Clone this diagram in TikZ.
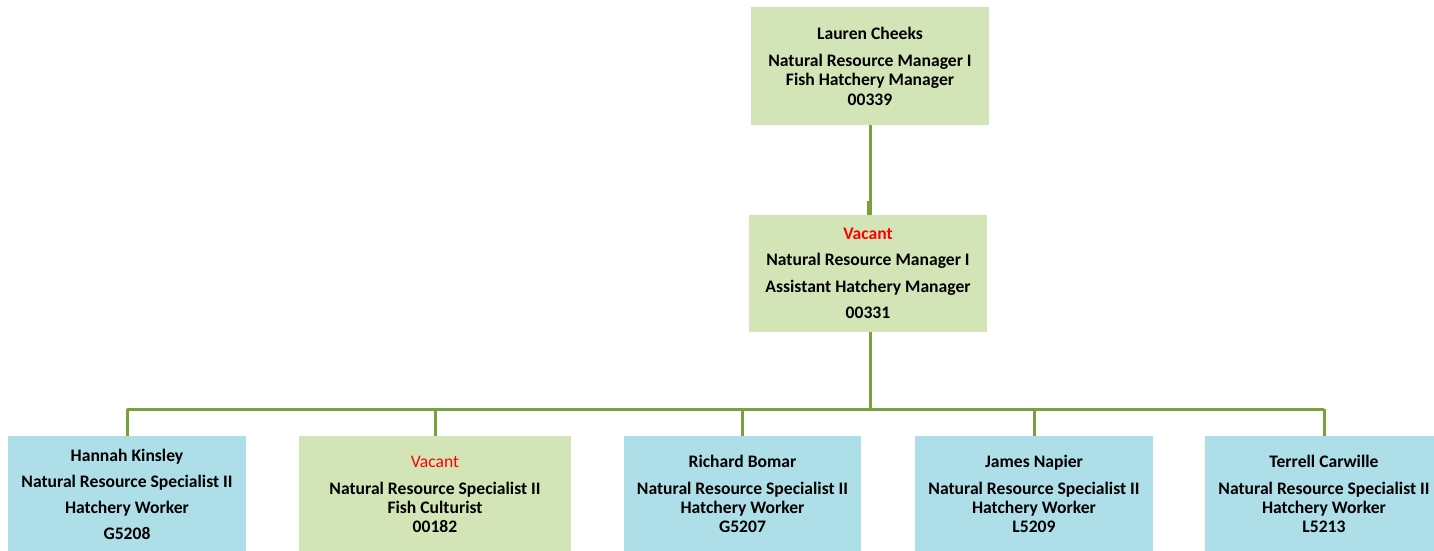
\documentclass[tikz,border=0pt]{standalone}
\usepackage{fontspec}
\setmainfont{Carlito}
\definecolor{boxgreen}{HTML}{D3E5B6}
\definecolor{boxblue}{HTML}{AEDEE8}
\definecolor{linegreen}{HTML}{77A13B}
\definecolor{vacred}{HTML}{FF0000}
\begin{document}
\begin{tikzpicture}[x=1pt,y=-1pt,
  box/.style={inner sep=0pt, outer sep=0pt, align=center,
    font=\fontsize{17.6}{19}\selectfont\bfseries},
  gbox/.style={box, fill=boxgreen},
  bbox/.style={box, fill=boxblue},
  conn/.style={draw=linegreen, line width=3pt}]
\useasboundingbox (0,0) rectangle (1434,551);
\clip (0,0) rectangle (1434,551);
\fill[white] (0,0) rectangle (1434,551);

\node[gbox, minimum width=238pt, minimum height=118pt] (top) at (870,66)
  {Lauren Cheeks\\[8pt]Natural Resource Manager I\\Fish Hatchery Manager\\[1pt]00339};
\node[gbox, minimum width=238pt, minimum height=117pt] (mid) at (868,273.5)
  {\textcolor{vacred}{Vacant}\\[7.5pt]Natural Resource Manager I\\[7.5pt]Assistant Hatchery Manager\\[7.5pt]00331};

\node[bbox, minimum width=238pt, minimum height=116pt] (b1) at (127,494)
  {Hannah Kinsley\\[7pt]Natural Resource Specialist II\\[7pt]Hatchery Worker\\[7pt]G5208};
\node[gbox, minimum width=272pt, minimum height=116pt] (b2) at (435,494)
  {\textcolor{vacred}{\mdseries Vacant}\\[8pt]Natural Resource Specialist II\\Fish Culturist\\00182};
\node[bbox, minimum width=237pt, minimum height=116pt] (b3) at (742.5,494)
  {Richard Bomar\\[8pt]Natural Resource Specialist II\\Hatchery Worker\\G5207};
\node[bbox, minimum width=238pt, minimum height=116pt] (b4) at (1034,494)
  {James Napier\\[8pt]Natural Resource Specialist II\\Hatchery Worker\\L5209};
\node[bbox, minimum width=238pt, minimum height=116pt] (b5) at (1324,494)
  {Terrell Carwille\\[8pt]Natural Resource Specialist II\\Hatchery Worker\\L5213};

\coordinate (bus) at (870,409);
\coordinate (kink) at (868,201);

\draw[conn] (top.south) -- (mid.north -| top.south);
\draw[conn, line width=2pt] (kink) -- (mid.north -| kink);
\draw[conn] (mid.south -| bus) -- (bus);
\draw[conn] (b1.north |- bus) -- (b5.north |- bus);
\foreach \b in {b1,b2,b3,b4,b5}
  \draw[conn] (\b.north |- bus) -- (\b.north);
\end{tikzpicture}
\end{document}
